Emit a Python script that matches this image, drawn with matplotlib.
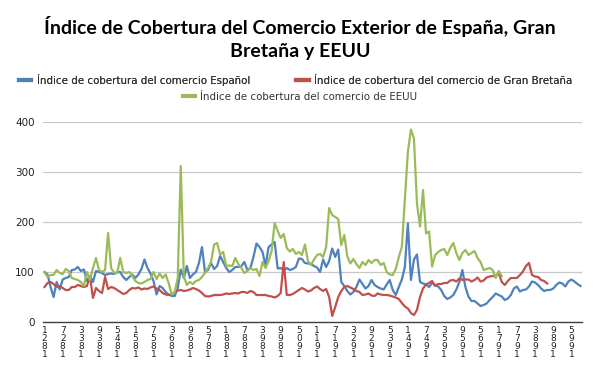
import matplotlib
matplotlib.use("Agg")
import matplotlib.pyplot as plt
from matplotlib.lines import Line2D

# valores anuales
blue_1821 = [100, 95, 70, 50, 80, 65, 85, 88, 90, 104, 105, 110, 102, 105, 82, 92, 80, 102, 100, 98,
             94, 96, 97, 96, 100, 100, 90, 84, 90]
blue_1850 = [95, 88, 95, 106, 125, 108, 97, 82, 55, 72, 68, 60, 55, 52, 52, 68, 105, 88, 112, 88,
             95, 100, 118, 150, 100, 104, 118, 106, 112, 132]
blue_1880 = [120, 108, 100, 104, 110, 110, 112, 120, 104, 108, 130, 157, 150, 140, 112, 150, 155, 160, 107, 108,
             103, 108, 104, 106, 110, 127, 126, 118, 117, 116]
blue_1910 = [112, 109, 100, 125, 110, 122, 147, 130, 145, 80, 72, 62, 55, 60, 70, 85, 76, 67, 72, 84,
             74, 70, 67, 65, 75, 84, 64, 54, 70, 85]
blue_1940 = [110, 197, 84, 125, 135, 80, 77, 75, 70, 78, 74, 71, 64, 52, 46, 49, 54, 65, 80, 104,
             70, 51, 42, 42, 37, 32, 34, 37, 44, 50]
blue_1970 = [57, 54, 51, 44, 47, 54, 67, 71, 61, 64, 65, 71, 81, 79, 74, 67, 62, 64, 64, 67,
             74, 79, 77, 71, 81, 85, 81, 76, 72]

red_1821 = [70, 78, 80, 76, 70, 72, 68, 64, 64, 70, 70, 74, 72, 70, 72, 92, 48, 68, 62, 58,
            90, 66, 70, 68, 64, 60, 56, 58, 64]
red_1850 = [68, 67, 69, 65, 67, 66, 69, 71, 67, 64, 58, 55, 54, 55, 60, 63, 64, 62, 63, 65,
            68, 66, 63, 58, 52, 51, 52, 54, 54, 54]
red_1880 = [55, 57, 56, 57, 58, 57, 60, 60, 58, 62, 60, 54, 54, 54, 54, 52, 51, 49, 52, 58,
            120, 54, 54, 56, 60, 64, 68, 65, 61, 63]
red_1910 = [68, 71, 66, 62, 66, 50, 12, 30, 50, 62, 70, 72, 69, 66, 62, 60, 54, 55, 57, 53,
            52, 57, 55, 54, 54, 53, 51, 49, 46, 38]
red_1940 = [31, 27, 18, 14, 24, 50, 67, 75, 78, 82, 72, 76, 76, 78, 78, 83, 84, 81, 87, 84,
            85, 85, 81, 84, 89, 81, 83, 89, 91, 92]
red_1970 = [92, 98, 80, 74, 82, 88, 88, 88, 94, 101, 112, 118, 94, 91, 90, 84, 82, 77]

green_1821 = [100, 90, 94, 94, 104, 98, 96, 106, 102, 88, 86, 84, 80, 72, 100, 84, 108, 128, 104, 100,
              104, 178, 108, 98, 98, 128, 100, 98, 100]
green_1850 = [92, 82, 78, 77, 80, 84, 86, 100, 86, 97, 88, 95, 78, 55, 60, 88, 312, 92, 74, 80,
              76, 82, 84, 90, 98, 108, 120, 155, 158, 135]
green_1880 = [140, 112, 113, 112, 128, 116, 108, 98, 102, 108, 104, 106, 92, 120, 108, 122, 142, 198, 182, 168,
              176, 148, 141, 146, 136, 140, 134, 155, 122, 114]
green_1910 = [125, 134, 136, 130, 150, 228, 214, 210, 206, 154, 174, 131, 117, 126, 116, 108, 120, 114, 124, 118,
              124, 124, 114, 118, 100, 95, 94, 106, 130, 150]
green_1940 = [244, 340, 385, 367, 237, 191, 264, 177, 181, 111, 134, 140, 144, 146, 134, 148, 158, 138, 124, 138,
              144, 134, 138, 142, 128, 120, 104, 106, 108]
green_1969 = [104, 88, 102, 92]

espana = blue_1821 + blue_1850 + blue_1880 + blue_1910 + blue_1940 + blue_1970
gran_bretana = red_1821 + red_1850 + red_1880 + red_1910 + red_1940 + red_1970
eeuu = green_1821 + green_1850 + green_1880 + green_1910 + green_1940 + green_1969

first_year = 1821
tick_years = list(range(1821, 1996, 6))

labels = ["Índice de cobertura del comercio Español",
          "Índice de cobertura del comercio de Gran Bretaña",
          "Índice de cobertura del comercio de EEUU"]
colors = ["#4F81BD", "#C0504D", "#9BBB59"]

fig = plt.figure(figsize=(6, 3.71), dpi=100)
ax = fig.add_axes([43 / 600, 1 - 322 / 371, 539 / 600, 200 / 371])

for serie, col in zip([espana, gran_bretana, eeuu], colors):
    years = [first_year + i for i in range(len(serie))]
    ax.plot(years, serie, color=col, lw=1.6, solid_joinstyle="round")

ax.set_xlim(1820.5, 1998.5)
ax.set_ylim(0, 400)
ax.set_yticks([0, 100, 200, 300, 400])
ax.yaxis.grid(True, color="#c8c8c8", lw=0.9)
ax.set_axisbelow(True)
for s in ["top", "right", "left"]:
    ax.spines[s].set_visible(False)
ax.spines["bottom"].set_color("#404040")
ax.spines["bottom"].set_linewidth(1.0)
ax.tick_params(axis="y", length=0, pad=6, labelsize=7.5, labelcolor="#222222")
ax.set_xticks(tick_years)
ax.set_xticklabels(["\n".join(reversed(str(y))) for y in tick_years],
                   fontsize=6.5, linespacing=0.85, color="#222222")
ax.tick_params(axis="x", length=0, pad=3)

fig.text(0.5, 1 - 38 / 371, "Índice de Cobertura del Comercio Exterior de España, Gran\nBretaña y EEUU",
         ha="center", va="center", fontsize=14.0, fontweight="bold", family="Lato",
         linespacing=1.45)

handles = [Line2D([], [], color=c, lw=3) for c in colors]
leg_kw = dict(frameon=False, fontsize=7.35, handlelength=1.2, handletextpad=0.55,
              borderaxespad=0, borderpad=0, labelcolor="#333333")
leg1 = fig.legend(handles[:2], labels[:2], loc="center", bbox_to_anchor=(0.493, 1 - 80 / 371),
                  ncol=2, columnspacing=4.5, **leg_kw)
fig.legend(handles[2:], labels[2:], loc="center", bbox_to_anchor=(0.5, 1 - 97 / 371), **leg_kw)
fig.add_artist(leg1)

fig.savefig("out.png", dpi=100)
